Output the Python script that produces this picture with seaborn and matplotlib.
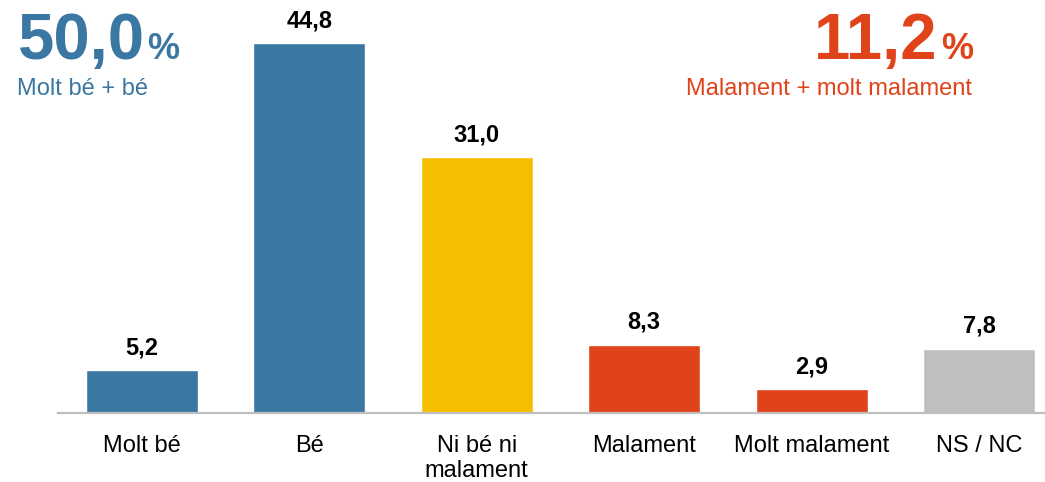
import matplotlib
matplotlib.use("Agg")
import matplotlib.pyplot as plt
import seaborn as sns
import pandas as pd

categories = ["Molt bé", "Bé", "Ni bé ni\nmalament", "Malament", "Molt malament", "NS / NC"]
values = [5.2, 44.8, 31.0, 8.3, 2.9, 7.8]
colors = ["#3A77A3", "#3A77A3", "#F5BF00", "#E04319", "#E04319", "#BFBFBF"]
left_total = "50,0"
left_label = "Molt bé + bé"
right_total = "11,2"
right_label = "Malament + molt malament"

BLUE = "#3A77A3"
RED = "#E04319"

sns.set_theme(style="white")
plt.rcParams["font.family"] = ["Liberation Sans", "DejaVu Sans"]

W, H = 1045, 482
fig = plt.figure(figsize=(W / 100, H / 100), dpi=100)
ax = fig.add_axes([58 / W, 69 / H, 987 / W, 413 / H])

df = pd.DataFrame({"cat": categories, "val": values})
sns.barplot(data=df, x="cat", y="val", hue="cat", palette=colors, legend=False,
            width=0.669, saturation=1, ax=ax, zorder=1)

ax.set_xlim(-0.5, 5.393)
ax.set_ylim(0, 413 / 8.25)
ax.set_xlabel("")
ax.set_ylabel("")
ax.set_yticks([])
for s in ["top", "right", "left"]:
    ax.spines[s].set_visible(False)
ax.spines["bottom"].set_color("#BFBFBF")
ax.spines["bottom"].set_linewidth(1.6)
ax.spines["bottom"].set_zorder(3)
ax.tick_params(axis="x", length=0, pad=16, labelsize=17, colors="black")
for t in ax.get_xticklabels():
    t.set_linespacing(1.15)

for i, v in enumerate(values):
    ax.annotate(f"{v:.1f}".replace(".", ","), (i, v), xytext=(0, 16),
                textcoords="offset pixels", ha="center", va="baseline",
                fontsize=17, fontweight="bold", color="black")

# Headline totals
fig.canvas.draw()
r = fig.canvas.get_renderer()

def ypx(y):
    return 1 - y / H

t1 = fig.text(18 / W, ypx(59), left_total, fontsize=47, fontweight="bold",
              color=BLUE, ha="left", va="baseline")
bb = t1.get_window_extent(r)
fig.text(bb.x1 / W + 2 / W, ypx(59), "%", fontsize=26, fontweight="bold",
         color=BLUE, ha="left", va="baseline")
fig.text(17 / W, ypx(95), left_label, fontsize=17, color=BLUE, ha="left", va="baseline")

p = fig.text(973 / W, ypx(59), "%", fontsize=26, fontweight="bold",
             color=RED, ha="right", va="baseline")
bb = p.get_window_extent(r)
fig.text(bb.x0 / W - 3 / W, ypx(59), right_total, fontsize=47, fontweight="bold",
         color=RED, ha="right", va="baseline")
fig.text(972 / W, ypx(95), right_label, fontsize=17, color=RED, ha="right", va="baseline")

fig.savefig("out.png", dpi=100)
